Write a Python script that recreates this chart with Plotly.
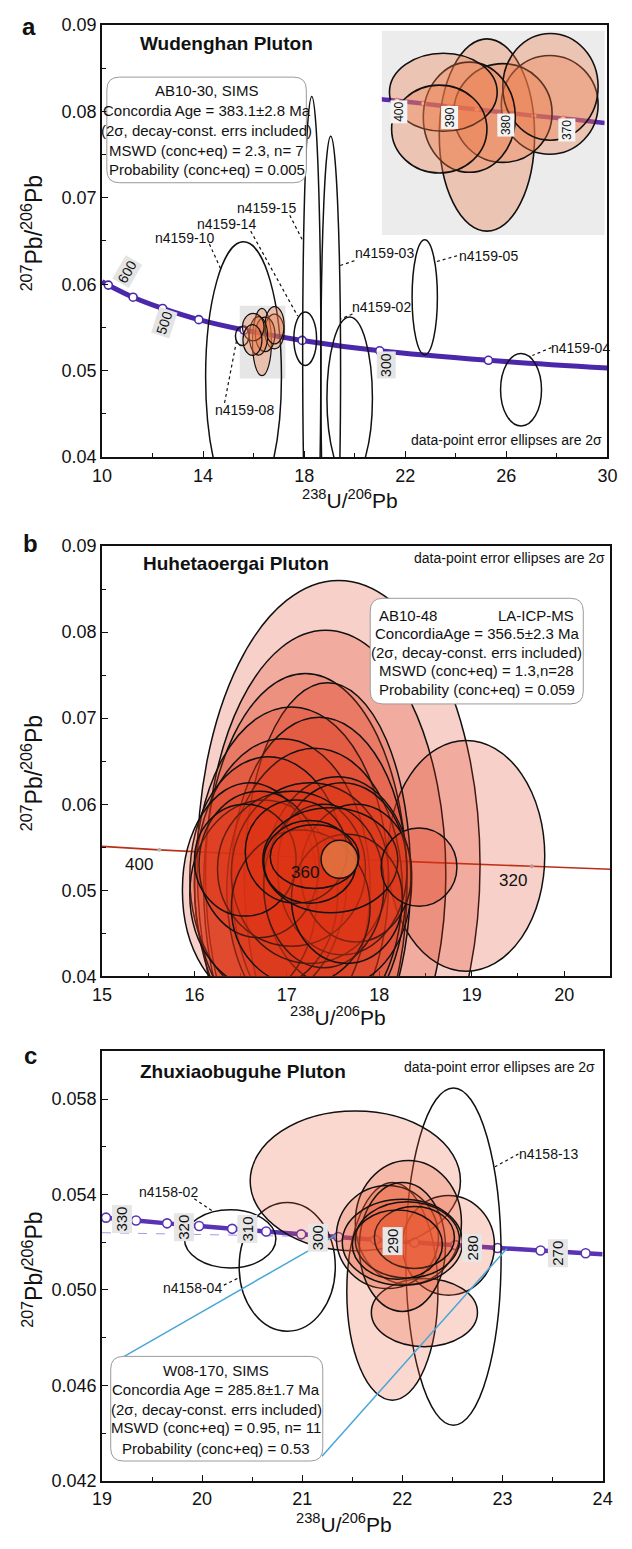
import plotly.graph_objects as go

W, H = 632, 1549
FONT = "Liberation Sans, Arial, sans-serif"

# ================= DATA =================
# ---- panel a : Wudenghan Pluton ----
a_curve_x = [10.0, 10.25, 11.23, 12.40, 13.83, 15.62, 17.92, 20.99, 25.29, 30.0]
a_curve_y = [0.0603, 0.0599, 0.0585, 0.0572, 0.0559, 0.0547, 0.0535, 0.0523, 0.0512, 0.0503]
a_age_x = [10.25, 11.23, 12.40, 13.83, 15.62, 17.92, 20.99, 25.29]
a_age_y = [0.0599, 0.0585, 0.0572, 0.0559, 0.0547, 0.0535, 0.0523, 0.0512]
a_agelab_text = ["600", "500", "300"]
a_agelab_x = [10.98, 12.45, 21.26]
a_agelab_y = [0.06146, 0.05556, 0.05062]
a_agelab_ang = [-60, -72, -90]

# open (rejected) ellipses: centre and half-axes
a_open_cx = [15.60, 18.04, 18.30, 19.05, 19.80, 22.77, 26.58, 15.55]
a_open_cy = [0.0493, 0.0537, 0.0520, 0.0500, 0.0468, 0.0585, 0.0478, 0.0540]
a_open_rx = [1.50, 0.45, 0.36, 0.39, 0.90, 0.50, 0.81, 0.27]
a_open_ry = [0.0156, 0.0031, 0.0297, 0.0271, 0.0094, 0.00665, 0.0042, 0.0011]

# concordant cluster (n = 7), also shown in the inset
a_clu_cx = [16.329, 16.824, 16.455, 16.830, 16.190, 15.985, 15.953]
a_clu_cy = [0.05331, 0.05453, 0.05420, 0.05526, 0.05403, 0.05504, 0.05355]
a_clu_rx = [0.376, 0.382, 0.388, 0.376, 0.363, 0.425, 0.376]
a_clu_ry = [0.00389, 0.00200, 0.00200, 0.00216, 0.00223, 0.00158, 0.00178]

# inset concordia
ins_curve_x = [15.49, 15.62, 15.83, 16.03, 16.25, 16.47, 16.70, 16.93, 17.17, 17.26]
ins_curve_y = [0.05476, 0.05470, 0.05458, 0.05446, 0.05434, 0.05422, 0.05409, 0.05398, 0.05385, 0.05380]
ins_age_x = [15.62, 15.83, 16.03, 16.25, 16.47, 16.70, 16.93]
ins_age_y = [0.05470, 0.05458, 0.05446, 0.05434, 0.05422, 0.05409, 0.05398]
ins_lab_text = ["400", "390", "380", "370"]
ins_lab_x = [15.63, 16.034, 16.475, 16.956]
ins_lab_y = [0.05426, 0.05400, 0.05373, 0.05353]

a_spot_text = ["n4159-15", "n4159-14", "n4159-10", "n4159-03", "n4159-05",
               "n4159-02", "n4159-04", "n4159-08"]
a_spot_x = [16.51, 14.94, 13.26, 21.19, 25.29, 21.07, 28.93, 15.65]
a_spot_y = [0.06877, 0.06694, 0.06534, 0.06363, 0.06329, 0.05735, 0.05267, 0.04548]
a_lead_x0 = [17.43, 15.885, 14.25, 19.99, 24.05, 19.91, 27.78, 14.85]
a_lead_y0 = [0.06797, 0.06614, 0.06466, 0.06272, 0.06329, 0.05655, 0.05267, 0.04628]
a_lead_x1 = [17.93, 17.74, 14.69, 19.41, 23.22, 19.44, 27.03, 15.34]
a_lead_y1 = [0.06511, 0.05632, 0.06180, 0.06215, 0.06260, 0.05598, 0.05176, 0.05370]

# ---- panel b : Huhetaoergai Pluton (n = 28) ----
b_curve_x = [15.0, 15.62, 17.41, 19.65, 20.5]
b_curve_y = [0.0551, 0.0547, 0.05374, 0.05279, 0.05245]
b_age_x = [15.62, 19.65]
b_age_y = [0.0547, 0.05279]
b_agelab_text = ["400", "360", "320"]
b_agelab_x = [15.40, 17.20, 19.45]
b_agelab_y = [0.0530, 0.0521, 0.0511]
b_cx = [17.56, 17.42, 18.94, 17.20, 17.44, 17.05, 17.35, 16.95, 17.30, 16.80,
        17.55, 16.60, 16.75, 17.25, 17.60, 17.05, 17.75, 16.70, 17.40, 17.15,
        17.65, 16.55, 17.10, 17.47, 17.25, 18.43, 17.30, 17.57]
b_cy = [0.0529, 0.0518, 0.0540, 0.0505, 0.0515, 0.0510, 0.0515, 0.0505, 0.0500, 0.0515,
        0.0510, 0.0500, 0.0495, 0.0520, 0.0525, 0.0525, 0.0520, 0.0530, 0.0505, 0.0480,
        0.0490, 0.0535, 0.0545, 0.0535, 0.0533, 0.0527, 0.0539, 0.0536]
b_rx = [1.53, 1.30, 0.85, 1.10, 0.90, 1.05, 0.95, 0.95, 0.95, 0.85,
        0.80, 0.73, 0.80, 0.85, 0.70, 0.80, 0.60, 0.65, 0.65, 0.75,
        0.60, 0.55, 0.55, 0.73, 0.50, 0.41, 0.48, 0.20]
b_ry = [0.0331, 0.0284, 0.0134, 0.0247, 0.0226, 0.0203, 0.0186, 0.0171, 0.0165, 0.0140,
        0.0122, 0.0125, 0.0110, 0.0105, 0.0100, 0.0090, 0.0080, 0.0085, 0.0095, 0.0090,
        0.0075, 0.0065, 0.0060, 0.0061, 0.0048, 0.00455, 0.0037, 0.0022]

# ---- panel c : Zhuxiaobuguhe Pluton ----
c_curve_x = [19.0, 19.04, 19.34, 19.65, 19.97, 20.30, 20.64, 20.99, 21.36, 21.73,
             22.12, 22.53, 22.95, 23.38, 23.83, 24.0]
c_curve_y = [0.05305, 0.05303, 0.05291, 0.05279, 0.05268, 0.05256, 0.05245, 0.05233,
             0.05222, 0.05210, 0.05199, 0.05188, 0.05176, 0.05165, 0.05154, 0.05150]
c_age_x = c_curve_x[1:-1]
c_age_y = c_curve_y[1:-1]
c_dash_x = [19.0, 21.3]
c_dash_y = [0.05240, 0.05222]
c_agelab_text = ["330", "320", "310", "300", "290", "280", "270"]
c_agelab_x = [19.195, 19.82, 20.45, 21.16, 21.90, 22.70, 23.55]
c_agelab_y = [0.05297, 0.05261, 0.05254, 0.05218, 0.05204, 0.05176, 0.05154]
c_open_cx = [20.28, 20.85, 22.51]
c_open_cy = [0.05214, 0.05097, 0.05140]
c_open_rx = [0.457, 0.48, 0.476]
c_open_ry = [0.00122, 0.00270, 0.00707]
c_cx = [21.53, 21.90, 22.46, 22.22, 22.06, 21.85, 22.00, 22.00, 22.05, 22.12, 21.95]
c_cy = [0.05457, 0.04994, 0.05187, 0.04905, 0.05283, 0.05222, 0.05180, 0.05200, 0.05210, 0.05220, 0.05190]
c_rx = [1.05, 0.455, 0.46, 0.53, 0.53, 0.51, 0.43, 0.60, 0.52, 0.40, 0.45]
c_ry = [0.00293, 0.00456, 0.00209, 0.00143, 0.00260, 0.00216, 0.00270, 0.00180, 0.00160, 0.00130, 0.00145]
c_spot_text = ["n4158-02", "n4158-04", "n4158-13"]
c_spot_x = [19.667, 19.903, 23.462]
c_spot_y = [0.05410, 0.05009, 0.05570]
c_lead_x0 = [19.922, 20.217, 23.159]
c_lead_y0 = [0.05382, 0.05020, 0.05570]
c_lead_x1 = [20.099, 20.353, 22.924]
c_lead_y1 = [0.05332, 0.05048, 0.05516]
c_call_x0 = [19.196, 21.197]
c_call_y0 = [0.04715, 0.04303]
c_call_x1 = [21.335, 23.042]
c_call_y1 = [0.05230, 0.05173]

# ================= LAYOUT HELPERS =================
def PX(x):
    return x / W


def PY(y):
    return 1 - y / H


def dom_x(a, b):
    return [PX(a), PX(b)]


def dom_y(top, bottom):
    return [PY(bottom), PY(top)]


INK = "#111111"
PURPLE = "#4b28aa"


def axis(domain, rng, dtick, tick0, mdtick, fmt=None, anchor=None, standoff=0):
    d = dict(domain=domain, range=rng, anchor=anchor, dtick=dtick, tick0=tick0,
             ticks="inside", ticklen=6, tickwidth=1.3, tickcolor=INK,
             minor=dict(dtick=mdtick, tick0=tick0, ticks="inside", ticklen=4,
                        tickwidth=1.2, tickcolor=INK),
             showline=True, linecolor=INK, linewidth=1.6, mirror=True,
             showgrid=False, zeroline=False, ticklabelstandoff=standoff,
             tickfont=dict(family=FONT, size=18, color=INK))
    if fmt:
        d["tickformat"] = fmt
    return d


fig = go.Figure()

# ---- concordia traces ----
fig.add_trace(go.Scatter(x=a_curve_x, y=a_curve_y, mode="lines", xaxis="x", yaxis="y",
                         line=dict(color=PURPLE, width=5, shape="spline"), hoverinfo="skip"))
fig.add_trace(go.Scatter(x=a_age_x, y=a_age_y, mode="markers", xaxis="x", yaxis="y",
                         marker=dict(size=8, color="white", line=dict(color=PURPLE, width=1.6))))
fig.add_trace(go.Scatter(x=ins_curve_x, y=ins_curve_y, mode="lines", xaxis="x4", yaxis="y4",
                         line=dict(color="#5a2ab0", width=4.5, shape="spline")))
fig.add_trace(go.Scatter(x=ins_age_x, y=ins_age_y, mode="markers", xaxis="x4", yaxis="y4",
                         marker=dict(size=5, color="white", line=dict(color="#c46a8a", width=1))))
fig.add_trace(go.Scatter(x=b_curve_x, y=b_curve_y, mode="lines", xaxis="x2", yaxis="y2",
                         line=dict(color="#b8301a", width=1.6, shape="spline")))
fig.add_trace(go.Scatter(x=b_age_x, y=b_age_y, mode="markers", xaxis="x2", yaxis="y2",
                         marker=dict(size=4, color="#b5b5b5")))
fig.add_trace(go.Scatter(x=c_dash_x, y=c_dash_y, mode="lines", xaxis="x3", yaxis="y3",
                         line=dict(color="#a898e0", width=1, dash="dash")))
fig.add_trace(go.Scatter(x=c_curve_x, y=c_curve_y, mode="lines", xaxis="x3", yaxis="y3",
                         line=dict(color="#5a32b4", width=4.5, shape="spline")))
fig.add_trace(go.Scatter(x=c_age_x, y=c_age_y, mode="markers", xaxis="x3", yaxis="y3",
                         marker=dict(size=9, color="white", line=dict(color="#5a32b4", width=1.6))))

shapes = []


def ell(xr, yr, cx, cy, rx, ry, fill, lc=INK, lw=1.5):
    return dict(type="circle", xref=xr, yref=yr, x0=cx - rx, x1=cx + rx,
                y0=cy - ry, y1=cy + ry, fillcolor=fill,
                line=dict(color=lc, width=lw), layer="above")


# panel a : gray box behind cluster, inset background
shapes.append(dict(type="rect", xref="x", yref="y", x0=15.45, x1=17.26, y0=0.0491, y1=0.0575,
                   fillcolor="#e6e6e6", line=dict(width=0), layer="below"))
shapes.append(dict(type="rect", xref="x4 domain", yref="y4 domain", x0=0, x1=1, y0=0, y1=1,
                   fillcolor="#ececec", line=dict(width=0), layer="below"))
for i in range(len(a_open_cx)):
    shapes.append(ell("x", "y", a_open_cx[i], a_open_cy[i], a_open_rx[i], a_open_ry[i],
                      "rgba(0,0,0,0)", lw=1.5))
for i in range(len(a_clu_cx)):
    shapes.append(ell("x", "y", a_clu_cx[i], a_clu_cy[i], a_clu_rx[i], a_clu_ry[i],
                      "rgba(238,120,70,0.35)", lw=1.2))
for i in range(len(a_clu_cx)):
    shapes.append(ell("x4", "y4", a_clu_cx[i], a_clu_cy[i], a_clu_rx[i], a_clu_ry[i],
                      "rgba(238,120,70,0.34)", lw=1.6))
for i in range(len(a_lead_x0)):
    shapes.append(dict(type="line", xref="x", yref="y", x0=a_lead_x0[i], y0=a_lead_y0[i],
                       x1=a_lead_x1[i], y1=a_lead_y1[i], line=dict(color=INK, width=1.2, dash="dot"),
                       layer="above"))

# panel b
for i in range(len(b_cx)):
    fill = "rgba(225,118,66,0.85)" if i == len(b_cx) - 1 else "rgba(220,52,20,0.23)"
    shapes.append(ell("x2", "y2", b_cx[i], b_cy[i], b_rx[i], b_ry[i], fill, lw=1.5))

# panel c
for i in range(len(c_open_cx)):
    shapes.append(ell("x3", "y3", c_open_cx[i], c_open_cy[i], c_open_rx[i], c_open_ry[i],
                      "rgba(0,0,0,0)", lw=1.5))
for i in range(len(c_cx)):
    shapes.append(ell("x3", "y3", c_cx[i], c_cy[i], c_rx[i], c_ry[i],
                      "rgba(232,88,48,0.23)", lw=1.5))
for i in range(len(c_lead_x0)):
    shapes.append(dict(type="line", xref="x3", yref="y3", x0=c_lead_x0[i], y0=c_lead_y0[i],
                       x1=c_lead_x1[i], y1=c_lead_y1[i], line=dict(color=INK, width=1.2, dash="dot"),
                       layer="above"))
for i in range(len(c_call_x0)):
    shapes.append(dict(type="line", xref="x3", yref="y3", x0=c_call_x0[i], y0=c_call_y0[i],
                       x1=c_call_x1[i], y1=c_call_y1[i], line=dict(color="#4aa6d8", width=1.5),
                       layer="above"))


def rrect(x0, y0, x1, y1, r):
    p = (f"M {PX(x0 + r)},{PY(y0)} L {PX(x1 - r)},{PY(y0)} Q {PX(x1)},{PY(y0)} {PX(x1)},{PY(y0 + r)} "
         f"L {PX(x1)},{PY(y1 - r)} Q {PX(x1)},{PY(y1)} {PX(x1 - r)},{PY(y1)} "
         f"L {PX(x0 + r)},{PY(y1)} Q {PX(x0)},{PY(y1)} {PX(x0)},{PY(y1 - r)} "
         f"L {PX(x0)},{PY(y0 + r)} Q {PX(x0)},{PY(y0)} {PX(x0 + r)},{PY(y0)} Z")
    return dict(type="path", xref="paper", yref="paper", path=p, fillcolor="white",
                line=dict(color="#9a9a9a", width=1), layer="above")


shapes.append(rrect(100, 68, 306, 175, 13))
shapes.append(rrect(372, 596, 592, 703, 13))
shapes.append(rrect(104, 1364, 323, 1470, 13))

ann = []


def T(px, py, text, size=15, bold=False, angle=0, xa="center"):
    ann.append(dict(x=PX(px), y=PY(py), xref="paper", yref="paper", text=f"<b>{text}</b>" if bold else text,
                    showarrow=False, xanchor=xa, yanchor="middle", textangle=angle,
                    font=dict(family=FONT, size=size, color=INK)))


def D(xr, yr, x, y, text, size=14, angle=0, bg=None):
    d = dict(x=x, y=y, xref=xr, yref=yr, text=text, showarrow=False, xanchor="center",
             yanchor="middle", textangle=angle, font=dict(family=FONT, size=size, color=INK))
    if bg:
        d["bgcolor"] = bg
        d["borderpad"] = 1
    ann.append(d)


# panel letters
T(20, 17, "a", 24, True)
T(21, 540, "b", 24, True)
T(21, 1059, "c", 24, True)
# titles
T(224, 34, "Wudenghan Pluton", 19, True)
T(233, 561, "Huhetaoergai Pluton", 19, True)
T(241, 1075, "Zhuxiaobuguhe Pluton", 19, True)
T(513, 436, "data-point error ellipses are 2σ", 14)
T(516, 555, "data-point error ellipses are 2σ", 14)
T(506, 1071, "data-point error ellipses are 2σ", 14)
# axis titles
YT = "<sup>207</sup>Pb/<sup>206</sup>Pb"
XT = "<sup>238</sup>U/<sup>206</sup>Pb"
T(23, 226, YT, 23, angle=-90)
T(23, 773, YT, 23, angle=-90)
T(23, 1276, YT, 23, angle=-90)
T(351, 495, XT, 21)
T(339, 1019, XT, 21)
T(345, 1533, XT, 21)
# box texts
for py, s in zip([82, 102, 122, 142, 162],
                 ["AB10-30, SIMS", "Concordia Age = 383.1±2.8 Ma", "(2σ, decay-const. errs included)",
                  "MSWD (conc+eq) = 2.3, n= 7", "Probability (conc+eq) = 0.005"]):
    T(203, py, s, 15)
T(379, 613, "AB10-48", 15, xa="left")
T(585, 613, "LA-ICP-MS", 15, xa="right")
for py, s in zip([632, 650.5, 669, 688],
                 ["ConcordiaAge = 356.5±2.3 Ma", "(2σ, decay-const. errs included)",
                  "MSWD (conc+eq) = 1.3,n=28", "Probability (conc+eq) = 0.059"]):
    T(482, py, s, 15)
for py, s in zip([1378, 1398, 1417.5, 1436.5, 1457],
                 ["W08-170, SIMS", "Concordia Age = 285.8±1.7 Ma", "(2σ, decay-const. errs included)",
                  "MSWD (conc+eq) = 0.95, n= 11", "Probability (conc+eq) = 0.53"]):
    T(213, py, s, 15)

# data-anchored labels
for t, x, y, a in zip(a_agelab_text, a_agelab_x, a_agelab_y, a_agelab_ang):
    D("x", "y", x, y, t, 14, a, "#e4e4e4")
for t, x, y in zip(a_spot_text, a_spot_x, a_spot_y):
    D("x", "y", x, y, t, 14)
for t, x, y in zip(ins_lab_text, ins_lab_x, ins_lab_y):
    D("x4", "y4", x, y, t, 12, -90, "#f4f4f4")
for t, x, y in zip(b_agelab_text, b_agelab_x, b_agelab_y):
    D("x2", "y2", x, y, t, 17)
for t, x, y in zip(c_agelab_text, c_agelab_x, c_agelab_y):
    D("x3", "y3", x, y, t, 15, -90, "#e6e6e6")
for t, x, y in zip(c_spot_text, c_spot_x, c_spot_y):
    D("x3", "y3", x, y, t, 14)

fig.update_layout(
    width=W, height=H, autosize=False, showlegend=False,
    margin=dict(l=0, r=0, t=0, b=0),
    paper_bgcolor="white", plot_bgcolor="rgba(0,0,0,0)",
    xaxis=axis(dom_x(95, 617), [10, 30], 4, 10, 2, anchor="y", standoff=1),
    yaxis=axis(dom_y(15, 453), [0.04, 0.09], 0.01, 0.04, 0.005, ".2f", anchor="x"),
    xaxis2=axis(dom_x(95, 620), [15, 20.5], 1, 15, 0.5, anchor="y2", standoff=1),
    yaxis2=axis(dom_y(543, 979), [0.04, 0.09], 0.01, 0.04, 0.005, ".2f", anchor="x2"),
    xaxis3=axis(dom_x(95, 612), [19, 24], 1, 19, 0.5, anchor="y3", standoff=1),
    yaxis3=axis(dom_y(1055, 1490), [0.042, 0.060], 0.004, 0.042, 0.002, ".3f", anchor="x3"),
    xaxis4=dict(domain=dom_x(384, 614), range=[15.50, 17.257], anchor="y4", showticklabels=False,
                ticks="", showline=False, showgrid=False, zeroline=False),
    yaxis4=dict(domain=dom_y(21, 228), range=[0.04926, 0.05753], anchor="x4", showticklabels=False,
                ticks="", showline=False, showgrid=False, zeroline=False),
    shapes=shapes, annotations=ann,
)

fig.write_html("out.html", config={"displayModeBar": False},
               post_script="document.body.style.margin='0px';document.body.style.overflow='hidden';")
